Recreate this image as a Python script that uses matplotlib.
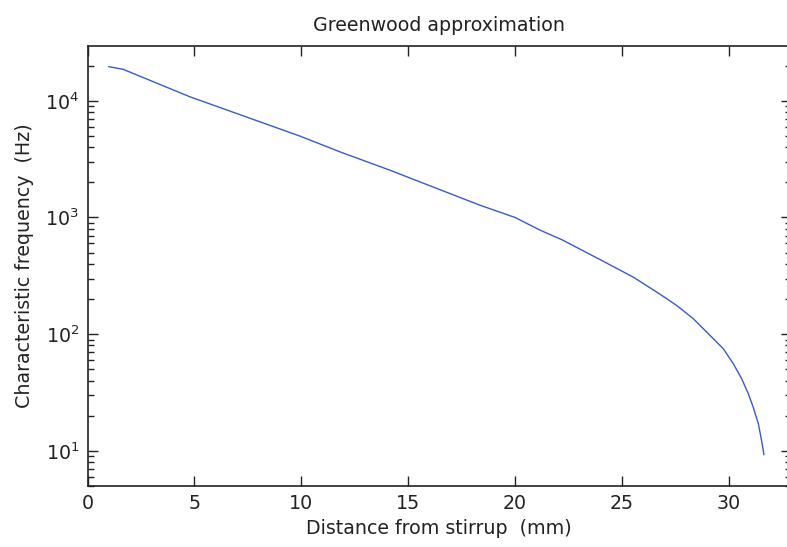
import numpy as np
import matplotlib
matplotlib.use("Agg")
import matplotlib.pyplot as plt
from matplotlib.ticker import LogLocator, NullFormatter

# values (distance in mm, frequency in Hz)
distance = [1.0, 1.67, 4.79, 9.94, 11.81, 14.15, 18.36, 20.0, 21.16, 22.18,
            23.97, 25.53, 26.78, 27.56, 28.33, 29.12, 29.74, 30.21, 30.6,
            30.91, 31.14, 31.38, 31.53, 31.64]
freq = [19600, 18600, 10820, 4980, 3650, 2540, 1273, 1000, 780, 646,
        436, 308, 220, 176, 136, 97.5, 75, 55.7, 41.4,
        30.8, 23.6, 17.0, 12.2, 9.3]

x_ticks = [0, 5, 10, 15, 20, 25, 30]

plt.rcParams['font.family'] = ['DejaVu Sans']
fs = 13.7

fig = plt.figure(figsize=(7.87, 5.47), dpi=100)
# right spine sits just past the image edge, as in the cropped reference
ax = fig.add_axes([87.5 / 787, 1 - 486 / 547, (791 - 87.5) / 787, 440 / 547])

ax.semilogy(distance, freq, color='#3a5bc7', linewidth=1.0)

ax.set_xlim(0, (791 - 87.5) / 21.38)
ax.set_ylim(5, 10 ** (4 + 54.7 / 116.5))
ax.set_xticks(x_ticks)
ax.yaxis.set_major_locator(LogLocator(base=10, numticks=10))
ax.yaxis.set_minor_locator(LogLocator(base=10, subs=np.arange(2, 10), numticks=10))
ax.yaxis.set_minor_formatter(NullFormatter())

ax.tick_params(which='both', direction='in', top=True, right=True,
               labelsize=fs, width=1.0, color='#222222', labelcolor='#222222')
ax.tick_params(which='major', length=7, pad=6)
ax.tick_params(which='minor', length=4)
for s in ax.spines.values():
    s.set_linewidth(1.2)
    s.set_color('#222222')

ax.set_title('Greenwood approximation', fontsize=fs, pad=11, color='#222222')
ax.set_xlabel('Distance from stirrup  (mm)', fontsize=fs, labelpad=4, color='#222222')
ax.set_ylabel('Characteristic frequency  (Hz)', fontsize=fs, labelpad=8, color='#222222')

fig.savefig('out.png', dpi=100)
